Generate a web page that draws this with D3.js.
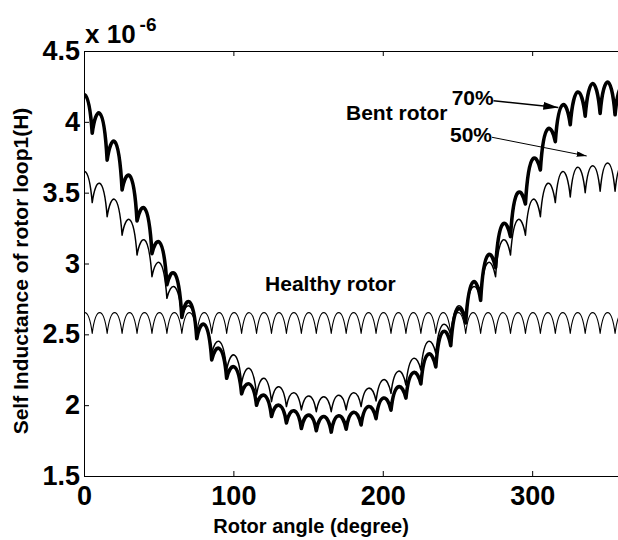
<!DOCTYPE html>
<html>
<head>
<meta charset="utf-8">
<script src="https://cdn.jsdelivr.net/npm/d3@7"></script>
<style>
  body { margin: 0; background: #fff; }
  text { font-family: "Liberation Sans", Arial, sans-serif; font-weight: bold; fill: #000; }
</style>
</head>
<body>
<div id="chart"></div>
<script>
// axis ticks
const angleTicks = [0, 100, 200, 300];
const inductanceTicks = [1.5, 2, 2.5, 3, 3.5, 4, 4.5];

// slot ripple: minima every 10 deg (-4.5 .. 365.5), maxima half way between (0.5 .. 360.5)
const dipAngles = d3.range(-4.5, 370, 10);

// values in 1e-6 H
const healthyDips = [
  2.507, 2.507, 2.507, 2.507, 2.507, 2.507, 2.507, 2.507, 2.507, 2.507,
  2.507, 2.507, 2.507, 2.507, 2.507, 2.507, 2.507, 2.507, 2.507, 2.507,
  2.507, 2.507, 2.507, 2.507, 2.507, 2.507, 2.507, 2.507, 2.507, 2.507,
  2.507, 2.507, 2.507, 2.507, 2.507, 2.507, 2.507, 2.507];
const healthyPeaks = [
  2.653, 2.653, 2.653, 2.653, 2.653, 2.653, 2.653, 2.653, 2.653, 2.653,
  2.653, 2.653, 2.653, 2.653, 2.653, 2.653, 2.653, 2.653, 2.653, 2.653,
  2.653, 2.653, 2.653, 2.653, 2.653, 2.653, 2.653, 2.653, 2.653, 2.653,
  2.653, 2.653, 2.653, 2.653, 2.653, 2.653, 2.653];

const bent50Dips = [
  3.50, 3.43, 3.33, 3.20, 3.06, 2.907, 2.754, 2.615, 2.49, 2.365,
  2.248, 2.154, 2.072, 2.025, 1.99, 1.966, 1.954, 1.954, 1.966, 1.99,
  2.03, 2.083, 2.142, 2.248, 2.365, 2.49, 2.615, 2.754, 2.907, 3.06,
  3.20, 3.33, 3.43, 3.47, 3.50, 3.51, 3.51, 3.50];
const bent50Peaks = [
  3.65, 3.566, 3.453, 3.31, 3.166, 3.006, 2.836, 2.70, 2.57, 2.45,
  2.354, 2.26, 2.19, 2.13, 2.088, 2.065, 2.06, 2.07, 2.088, 2.12,
  2.18, 2.24, 2.33, 2.45, 2.57, 2.70, 2.836, 3.006, 3.166, 3.31,
  3.453, 3.566, 3.65, 3.68, 3.69, 3.71, 3.70];

const bent70Dips = [
  4.06, 3.92, 3.73, 3.52, 3.30, 3.07, 2.85, 2.62, 2.47, 2.32,
  2.19, 2.08, 2.00, 1.92, 1.875, 1.835, 1.82, 1.81, 1.83, 1.86,
  1.905, 1.965, 2.05, 2.15, 2.27, 2.42, 2.58, 2.74, 2.97, 3.19,
  3.42, 3.66, 3.86, 3.98, 4.04, 4.06, 4.05, 4.00];
const bent70Peaks = [
  4.19, 4.06, 3.86, 3.62, 3.39, 3.15, 2.93, 2.73, 2.57, 2.40,
  2.27, 2.15, 2.07, 2.00, 1.96, 1.93, 1.92, 1.925, 1.95, 1.99,
  2.05, 2.13, 2.23, 2.36, 2.52, 2.68, 2.87, 3.06, 3.28, 3.50,
  3.74, 3.95, 4.12, 4.21, 4.27, 4.28, 4.25];

// text annotations, placed in data units
const notes = [
  {text: 'Healthy rotor', angle: 121.2, value: 2.806},
  {text: 'Bent rotor', angle: 175.4, value: 4.013},
  {text: '70%', angle: 246.1, value: 4.119},
  {text: '50%', angle: 245.0, value: 3.860}
];
const arrows = [
  {from: [274.1, 4.149], to: [317.5, 4.102], head: 'headBig', width: 1.5},
  {from: [273.1, 3.891], to: [336.5, 3.759], head: 'headSmall', width: 1}
];

document.addEventListener('DOMContentLoaded', function() {
  var W = 618, H = 540;
  var margin = {top: 51, left: 84};
  var innerW = 537.8, innerH = 425;

  var svg = d3.select('#chart').append('svg')
      .attr('width', W).attr('height', H);

  var defs = svg.append('defs');
  defs.append('clipPath').attr('id', 'plotclip')
    .append('rect').attr('width', innerW).attr('height', innerH);

  // arrow heads
  defs.append('marker').attr('id', 'headBig')
      .attr('markerUnits', 'userSpaceOnUse')
      .attr('markerWidth', 16).attr('markerHeight', 8)
      .attr('refX', 15).attr('refY', 4).attr('orient', 'auto')
    .append('path').attr('d', 'M0,0L15,4L0,8Z').attr('fill', '#000');
  defs.append('marker').attr('id', 'headSmall')
      .attr('markerUnits', 'userSpaceOnUse')
      .attr('markerWidth', 11).attr('markerHeight', 6)
      .attr('refX', 10).attr('refY', 2.75).attr('orient', 'auto')
    .append('path').attr('d', 'M0,0L10,2.75L0,5.5Z').attr('fill', '#000');

  var g = svg.append('g')
      .attr('transform', `translate(${margin.left},${margin.top})`);

  var x = d3.scaleLinear().domain([0, 360]).range([0, innerW]);
  var y = d3.scaleLinear().domain([1.5, 4.5]).range([innerH, 0]);

  // one rounded hump per slot pitch, narrow minima between
  var shoulder = 2.4;
  function ripplePath(dips, peaks) {
    var p = d3.path();
    p.moveTo(x(dipAngles[0]), y(dips[0]));
    peaks.forEach(function(P, k) {
      var xa = dipAngles[k], xb = dipAngles[k + 1];
      var da = dips[k], db = dips[k + 1];
      var h1 = da + (P - da) * 4 / 3;
      var h2 = db + (P - db) * 4 / 3;
      p.bezierCurveTo(x(xa + shoulder), y(h1), x(xb - shoulder), y(h2), x(xb), y(db));
    });
    return p.toString();
  }

  var series = [
    {dips: healthyDips, peaks: healthyPeaks, width: 1.1},
    {dips: bent50Dips, peaks: bent50Peaks, width: 1.5},
    {dips: bent70Dips, peaks: bent70Peaks, width: 3.6}
  ];

  g.append('g').attr('clip-path', 'url(#plotclip)')
    .selectAll('path')
    .data(series)
    .enter().append('path')
      .attr('d', function(d) { return ripplePath(d.dips, d.peaks); })
      .attr('fill', 'none')
      .attr('stroke', '#000')
      .attr('stroke-width', function(d) { return d.width; })
      .attr('stroke-linejoin', 'round');

  // axes, ticks pointing inwards
  function styleAxis(sel, size) {
    sel.attr('font-size', size).attr('font-family', null);
    sel.selectAll('path, line').attr('stroke', '#000');
  }

  g.append('g')
      .attr('transform', `translate(0,${innerH})`)
      .call(d3.axisBottom(x).tickValues(angleTicks).tickSizeInner(-5)
            .tickSizeOuter(0).tickPadding(10).tickFormat(d3.format('d')))
      .call(styleAxis, 27);

  g.append('g')
      .call(d3.axisTop(x).tickValues(angleTicks).tickSizeInner(-5)
            .tickSizeOuter(0).tickFormat(''))
      .call(styleAxis, 27);

  g.append('g')
      .call(d3.axisLeft(y).tickValues(inductanceTicks).tickSizeInner(-5)
            .tickSizeOuter(0).tickPadding(4).tickFormat(d3.format('~g')))
      .call(styleAxis, 27);

  g.append('rect')
      .attr('x', 0.5).attr('y', 0.5)
      .attr('width', innerW).attr('height', innerH)
      .attr('fill', 'none').attr('stroke', '#000');

  // exponent
  var expo = g.append('text').attr('x', 1).attr('y', -8).attr('font-size', 26);
  expo.append('tspan').text('x 10');
  expo.append('tspan').attr('dx', 4).attr('dy', -12).attr('font-size', 19).text('-6');

  // axis titles
  svg.append('text')
      .attr('x', margin.left + x(152)).attr('y', 533)
      .attr('text-anchor', 'middle').attr('font-size', 20)
      .text('Rotor angle (degree)');

  svg.append('text')
      .attr('transform', 'translate(28,271) rotate(-90)')
      .attr('text-anchor', 'middle').attr('font-size', 21)
      .text('Self Inductance of rotor loop1(H)');

  // annotations
  g.selectAll('.note')
    .data(notes)
    .enter().append('text')
      .attr('class', 'note')
      .attr('x', function(d) { return x(d.angle); })
      .attr('y', function(d) { return y(d.value); })
      .attr('font-size', 21)
      .text(function(d) { return d.text; });

  g.selectAll('.arrow')
    .data(arrows)
    .enter().append('line')
      .attr('class', 'arrow')
      .attr('x1', function(d) { return x(d.from[0]); })
      .attr('y1', function(d) { return y(d.from[1]); })
      .attr('x2', function(d) { return x(d.to[0]); })
      .attr('y2', function(d) { return y(d.to[1]); })
      .attr('stroke', '#000')
      .attr('stroke-width', function(d) { return d.width; })
      .attr('marker-end', function(d) { return `url(#${d.head})`; });
});
</script>
</body>
</html>
